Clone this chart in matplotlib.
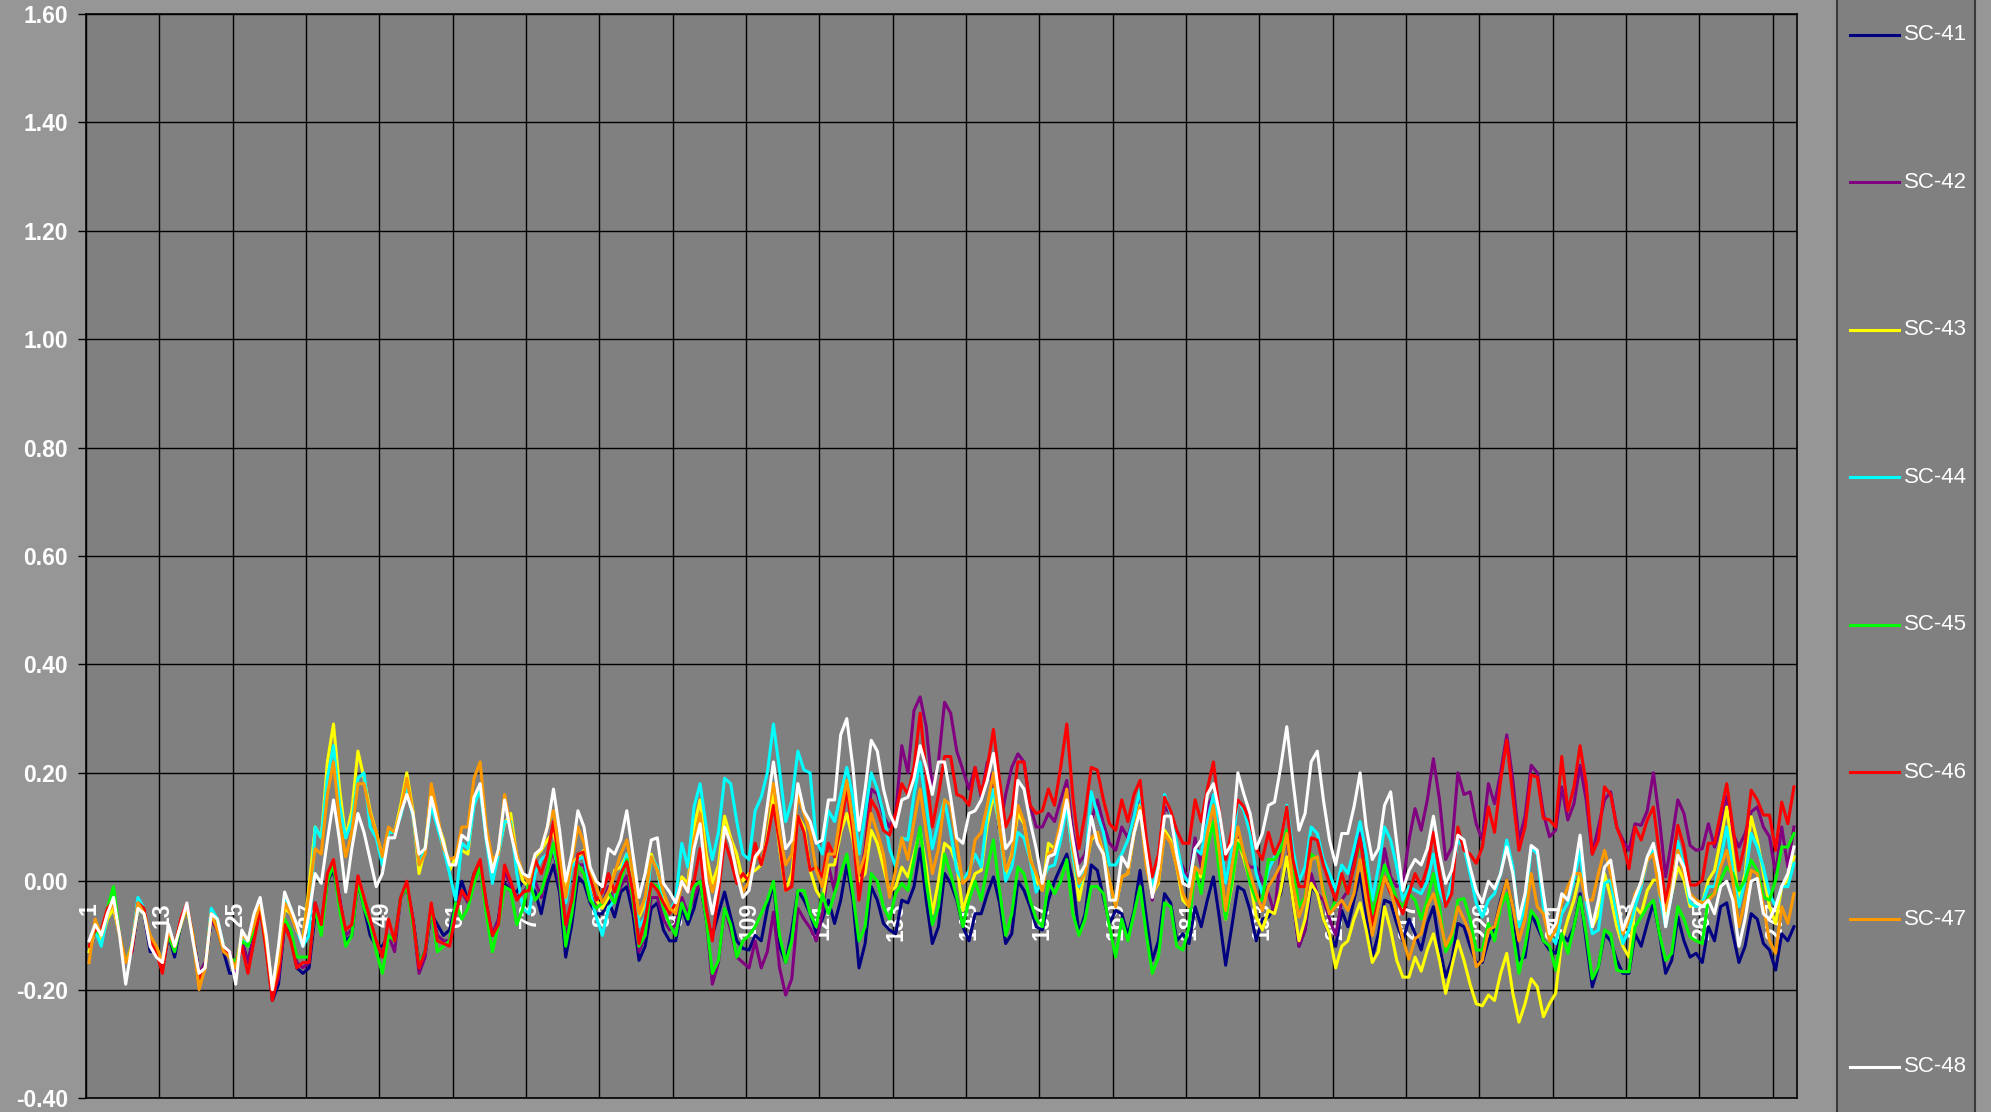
import numpy as np
import matplotlib
matplotlib.use('Agg')
import matplotlib.pyplot as plt
from matplotlib.patches import Rectangle
from matplotlib.lines import Line2D

plt.rcParams['font.family'] = ['Liberation Sans', 'DejaVu Sans']

# ---------------- data ----------------
series_names = ['SC-41', 'SC-42', 'SC-43', 'SC-44', 'SC-45', 'SC-46', 'SC-47', 'SC-48']
series_colors = ['#000080', '#800080', '#FFFF00', '#00FFFF', '#00FF00', '#FF0000', '#FF9900', '#FFFFFF']
tick_labels = [str(c) for c in range(1, 281, 12)]
y_ticks = [-0.40, -0.20, 0.00, 0.20, 0.40, 0.60, 0.80, 1.00, 1.20, 1.40, 1.60]

sc41 = [
    -0.11,-0.09,-0.10,-0.06,-0.03,-0.10,-0.15,-0.13,-0.05,-0.06,-0.13,-0.13,
    -0.16,-0.10,-0.14,-0.08,-0.05,-0.10,-0.17,-0.16,-0.07,-0.09,-0.13,-0.17,
    -0.17,-0.11,-0.15,-0.10,-0.05,-0.12,-0.22,-0.19,-0.08,-0.10,-0.16,-0.17,
    -0.16,-0.06,-0.08,0.00,0.02,-0.035,-0.11,-0.10,0.00,-0.05,-0.10,-0.12,
    -0.12,-0.10,-0.11,-0.03,-0.01,-0.07,-0.15,-0.13,-0.06,-0.08,-0.10,-0.09,
    -0.04,0.00,-0.035,0.014,0.026,-0.05,-0.10,-0.07,-0.004,-0.017,-0.02,0.00,
    0.00,-0.02,-0.06,-0.004,0.03,-0.02,-0.14,-0.08,0.008,-0.004,-0.04,-0.06,
    -0.06,-0.035,-0.066,-0.02,-0.01,-0.06,-0.146,-0.12,-0.05,-0.04,-0.09,-0.11,
    -0.11,-0.05,-0.08,-0.05,0.00,-0.07,-0.10,-0.06,-0.02,-0.066,-0.11,-0.124,
    -0.127,-0.10,-0.11,-0.05,-0.004,-0.12,-0.15,-0.09,-0.017,-0.035,-0.06,-0.097,
    -0.07,-0.035,-0.078,-0.035,0.03,-0.035,-0.16,-0.115,-0.01,-0.035,-0.078,-0.09,
    -0.097,-0.035,-0.04,-0.01,0.06,-0.035,-0.115,-0.084,0.014,-0.004,-0.035,-0.084,
    -0.11,-0.06,-0.06,-0.023,0.008,-0.04,-0.115,-0.097,0.00,-0.017,-0.047,-0.084,
    -0.09,-0.035,0.00,0.026,0.05,0.00,-0.097,-0.06,0.03,0.02,-0.03,-0.078,
    -0.054,-0.06,-0.10,-0.054,0.02,-0.066,-0.146,-0.11,-0.023,-0.04,-0.11,-0.097,
    -0.115,-0.047,-0.084,-0.035,0.008,-0.07,-0.155,-0.084,-0.01,-0.017,-0.054,-0.11,
    -0.07,-0.066,-0.047,-0.023,0.04,-0.035,-0.12,-0.09,-0.01,-0.023,-0.07,-0.10,
    -0.12,-0.054,-0.084,-0.035,0.014,-0.06,-0.14,-0.097,-0.035,-0.04,-0.078,-0.11,
    -0.07,-0.097,-0.127,-0.078,-0.047,-0.12,-0.177,-0.146,-0.078,-0.084,-0.12,-0.15,
    -0.15,-0.11,-0.084,-0.035,0.002,-0.047,-0.146,-0.14,-0.06,-0.084,-0.11,-0.127,
    -0.133,-0.097,-0.11,-0.084,-0.023,-0.11,-0.195,-0.158,-0.097,-0.11,-0.146,-0.17,
    -0.17,-0.097,-0.12,-0.078,-0.04,-0.097,-0.17,-0.146,-0.066,-0.11,-0.14,-0.133,
    -0.15,-0.084,-0.11,-0.047,-0.04,-0.097,-0.15,-0.12,-0.06,-0.07,-0.115,-0.127,
    -0.164,-0.097,-0.11,-0.084,
]

sc42 = [
    -0.12,-0.09,-0.10,-0.06,-0.03,-0.10,-0.15,-0.13,-0.05,-0.06,-0.12,-0.13,
    -0.16,-0.10,-0.13,-0.08,-0.05,-0.10,-0.17,-0.15,-0.07,-0.09,-0.12,-0.13,
    -0.17,-0.11,-0.15,-0.10,-0.05,-0.12,-0.21,-0.18,-0.08,-0.10,-0.15,-0.16,
    -0.15,-0.04,-0.08,0.00,0.03,-0.03,-0.10,-0.09,0.00,-0.04,-0.08,-0.12,
    -0.13,-0.10,-0.13,-0.03,-0.01,-0.07,-0.17,-0.14,-0.05,-0.10,-0.11,-0.11,
    -0.05,-0.02,-0.04,0.00,0.03,-0.04,-0.10,-0.07,0.02,-0.01,-0.03,-0.02,
    -0.01,0.00,-0.03,0.02,0.06,-0.01,-0.10,-0.06,0.03,0.03,-0.02,-0.05,
    -0.04,-0.01,-0.04,-0.01,0.01,-0.04,-0.13,-0.10,-0.03,-0.03,-0.07,-0.09,
    -0.08,-0.03,-0.06,-0.03,0.00,-0.07,-0.19,-0.15,-0.05,-0.09,-0.14,-0.15,
    -0.16,-0.11,-0.16,-0.13,-0.057,-0.16,-0.21,-0.18,-0.05,-0.07,-0.086,-0.11,
    -0.06,0.03,-0.02,0.125,0.16,0.125,0.00,0.06,0.17,0.16,0.12,0.10,
    0.125,0.25,0.20,0.315,0.34,0.285,0.17,0.22,0.33,0.31,0.24,0.205,
    0.17,0.21,0.155,0.22,0.17,0.094,0.16,0.21,0.235,0.22,0.14,0.10,
    0.10,0.125,0.11,0.15,0.186,0.09,0.033,0.05,0.11,0.15,0.106,0.07,
    0.057,0.10,0.08,0.125,0.16,0.076,-0.035,0.04,0.137,0.125,0.05,0.026,
    0.00,0.08,0.026,0.137,0.16,0.10,-0.004,0.05,0.088,0.04,0.026,0.026,
    0.00,-0.023,-0.06,0.05,0.088,-0.035,-0.12,-0.09,0.014,-0.023,-0.035,-0.07,
    -0.10,-0.035,-0.017,0.04,0.088,0.008,-0.084,-0.047,0.06,0.008,-0.01,-0.004,
    0.076,0.134,0.094,0.15,0.226,0.15,0.04,0.063,0.20,0.16,0.165,0.106,
    0.076,0.18,0.143,0.20,0.27,0.186,0.076,0.12,0.214,0.20,0.125,0.082,
    0.094,0.174,0.113,0.143,0.214,0.15,0.05,0.10,0.15,0.165,0.10,0.076,
    0.057,0.106,0.103,0.13,0.20,0.113,0.008,0.076,0.15,0.125,0.066,0.057,
    0.06,0.106,0.063,0.10,0.156,0.088,0.063,0.088,0.128,0.137,0.10,0.082,
    0.014,0.10,0.026,0.10,
]

sc43 = [
    -0.13,-0.09,-0.11,-0.07,-0.05,-0.10,-0.15,-0.12,-0.05,-0.06,-0.11,-0.12,
    -0.15,-0.09,-0.12,-0.08,-0.05,-0.10,-0.19,-0.16,-0.06,-0.08,-0.12,-0.14,
    -0.16,-0.10,-0.12,-0.08,-0.04,-0.11,-0.20,-0.15,-0.05,-0.06,-0.09,-0.11,
    -0.01,0.10,0.08,0.22,0.29,0.17,0.08,0.13,0.24,0.19,0.13,0.09,
    0.045,0.09,0.09,0.14,0.20,0.13,0.014,0.06,0.17,0.11,0.076,0.02,
    0.045,0.057,0.05,0.155,0.17,0.09,0.02,0.057,0.106,0.125,0.045,0.00,
    -0.01,0.045,0.057,0.076,0.09,0.04,-0.01,0.03,0.045,0.057,0.00,-0.035,
    -0.05,-0.03,0.02,0.026,0.05,0.014,-0.066,-0.04,0.05,0.02,-0.035,-0.05,
    -0.054,0.008,-0.004,0.10,0.15,0.05,-0.004,0.03,0.12,0.08,0.05,0.00,
    0.014,0.02,0.03,0.08,0.16,0.06,-0.017,0.014,0.12,0.10,0.02,-0.017,
    -0.035,0.03,0.03,0.09,0.125,0.076,0.00,0.014,0.094,0.07,0.026,-0.02,
    -0.01,0.026,0.008,0.05,0.094,0.026,-0.06,0.00,0.07,0.06,0.03,-0.054,
    -0.017,0.014,0.02,0.106,0.16,0.10,0.014,0.05,0.125,0.106,0.045,0.00,
    -0.017,0.07,0.06,0.094,0.14,0.05,-0.035,0.02,0.076,0.09,0.05,0.00,
    -0.047,0.008,0.014,0.088,0.14,0.04,-0.023,-0.004,0.094,0.076,0.026,-0.035,
    -0.047,0.014,0.008,0.088,0.11,0.026,-0.07,-0.01,0.076,0.04,0.00,-0.066,
    -0.09,-0.054,-0.06,-0.017,0.045,-0.035,-0.11,-0.07,-0.004,-0.023,-0.07,-0.097,
    -0.16,-0.12,-0.11,-0.07,-0.04,-0.09,-0.15,-0.13,-0.047,-0.09,-0.146,-0.177,
    -0.177,-0.14,-0.166,-0.127,-0.097,-0.146,-0.207,-0.158,-0.11,-0.146,-0.19,-0.226,
    -0.23,-0.21,-0.22,-0.17,-0.133,-0.207,-0.26,-0.226,-0.18,-0.195,-0.25,-0.226,
    -0.207,-0.11,-0.07,-0.035,0.014,-0.029,-0.084,-0.06,0.014,-0.029,-0.084,-0.12,
    -0.14,-0.047,-0.06,-0.017,0.002,0.002,-0.06,-0.023,0.026,0.002,-0.047,-0.04,
    -0.04,0.002,0.02,0.076,0.137,0.05,-0.035,0.014,0.119,0.076,0.014,-0.047,
    -0.078,-0.01,0.002,0.045,
]

sc44 = [
    -0.12,-0.09,-0.12,-0.06,-0.03,-0.10,-0.15,-0.12,-0.03,-0.05,-0.11,-0.13,
    -0.15,-0.09,-0.12,-0.08,-0.04,-0.10,-0.18,-0.16,-0.05,-0.07,-0.12,-0.14,
    -0.16,-0.10,-0.12,-0.08,-0.04,-0.11,-0.20,-0.14,-0.03,-0.05,-0.09,-0.12,
    -0.10,0.10,0.08,0.19,0.25,0.14,0.08,0.11,0.19,0.20,0.10,0.08,
    0.03,0.09,0.09,0.12,0.17,0.12,0.03,0.06,0.14,0.10,0.06,0.014,
    -0.035,0.07,0.06,0.14,0.17,0.076,-0.004,0.05,0.11,0.11,0.014,-0.05,
    -0.06,0.014,0.04,0.05,0.06,0.014,-0.04,0.026,0.04,0.045,-0.02,-0.066,
    -0.10,-0.05,-0.035,0.014,0.05,0.02,-0.084,-0.066,0.045,0.026,-0.05,-0.054,
    -0.035,0.07,0.026,0.137,0.18,0.10,0.04,0.09,0.19,0.18,0.11,0.05,
    0.04,0.13,0.155,0.20,0.29,0.205,0.11,0.15,0.24,0.205,0.20,0.076,
    0.05,0.13,0.11,0.16,0.21,0.155,0.05,0.125,0.20,0.17,0.125,0.06,
    0.026,0.08,0.076,0.16,0.22,0.14,0.06,0.11,0.15,0.09,0.02,0.00,
    0.02,0.05,0.026,0.125,0.17,0.10,0.00,0.026,0.09,0.08,0.04,-0.02,
    0.00,0.026,0.03,0.076,0.14,0.045,-0.01,0.02,0.165,0.125,0.09,0.03,
    0.03,0.05,0.076,0.12,0.17,0.05,-0.017,0.05,0.16,0.125,0.07,0.014,
    -0.004,0.06,0.05,0.11,0.16,0.10,-0.004,0.057,0.15,0.13,0.088,0.014,
    -0.023,0.02,0.045,0.076,0.14,0.06,0.00,0.026,0.10,0.088,0.04,0.014,
    -0.017,0.03,0.014,0.06,0.11,0.05,-0.035,0.026,0.10,0.076,0.026,-0.035,
    -0.01,-0.017,-0.023,0.00,0.05,-0.017,-0.047,0.002,0.076,0.063,0.014,-0.04,
    -0.066,-0.035,-0.023,0.014,0.076,0.026,-0.084,-0.047,0.063,0.05,-0.047,-0.097,
    -0.115,-0.06,-0.04,0.002,0.057,-0.04,-0.097,-0.09,-0.004,0.002,-0.06,-0.115,
    -0.09,-0.047,-0.01,0.039,0.057,-0.023,-0.084,-0.023,0.073,0.026,-0.04,-0.047,
    -0.04,-0.01,-0.01,0.039,0.10,0.02,-0.047,0.002,0.088,0.063,0.026,-0.023,
    -0.047,-0.01,-0.01,0.033,
]

sc45 = [
    -0.12,-0.09,-0.10,-0.05,-0.01,-0.10,-0.15,-0.12,-0.05,-0.06,-0.11,-0.13,
    -0.15,-0.10,-0.13,-0.08,-0.05,-0.10,-0.18,-0.16,-0.06,-0.08,-0.12,-0.14,
    -0.15,-0.11,-0.12,-0.09,-0.05,-0.12,-0.21,-0.16,-0.07,-0.09,-0.14,-0.14,
    -0.14,-0.05,-0.10,0.00,0.03,-0.05,-0.12,-0.10,0.00,-0.05,-0.08,-0.13,
    -0.17,-0.10,-0.11,-0.03,-0.01,-0.08,-0.15,-0.13,-0.05,-0.13,-0.12,-0.11,
    -0.04,-0.07,-0.05,-0.004,0.026,-0.06,-0.13,-0.08,-0.01,-0.017,-0.08,-0.05,
    0.00,-0.035,-0.02,0.02,0.07,0.008,-0.12,-0.06,0.03,0.014,-0.035,-0.05,
    -0.04,-0.02,-0.04,0.00,0.04,-0.035,-0.12,-0.10,-0.004,-0.01,-0.05,-0.08,
    -0.10,-0.04,-0.07,-0.01,0.00,-0.07,-0.17,-0.146,-0.05,-0.08,-0.14,-0.11,
    -0.10,-0.084,-0.06,-0.035,0.00,-0.10,-0.15,-0.11,-0.017,-0.017,-0.06,-0.084,
    -0.023,-0.06,-0.023,0.014,0.05,-0.023,-0.11,-0.084,0.014,0.00,-0.047,-0.07,
    -0.023,-0.004,-0.017,0.04,0.10,0.00,-0.08,-0.047,0.05,0.014,-0.03,-0.084,
    -0.035,0.00,-0.035,0.026,0.076,-0.017,-0.10,-0.06,0.026,0.014,-0.035,-0.07,
    -0.084,0.00,-0.023,0.00,0.04,-0.06,-0.10,-0.07,-0.01,-0.01,-0.023,-0.084,
    -0.14,-0.07,-0.11,-0.06,-0.01,-0.097,-0.17,-0.14,-0.04,-0.047,-0.12,-0.127,
    -0.084,0.026,-0.023,0.06,0.11,0.014,-0.07,-0.004,0.07,0.05,-0.004,-0.035,
    -0.035,0.04,0.04,0.057,0.094,0.026,-0.047,-0.03,0.05,0.04,-0.017,-0.06,
    -0.035,0.008,-0.023,0.026,0.07,0.014,-0.06,-0.017,0.03,0.00,-0.035,-0.047,
    -0.023,-0.035,-0.07,-0.035,0.014,-0.047,-0.13,-0.11,-0.035,-0.032,-0.07,-0.127,
    -0.127,-0.078,-0.11,-0.047,-0.023,-0.097,-0.17,-0.12,-0.054,-0.07,-0.11,-0.12,
    -0.164,-0.097,-0.133,-0.084,-0.029,-0.097,-0.18,-0.158,-0.09,-0.097,-0.164,-0.167,
    -0.167,-0.084,-0.066,-0.047,-0.035,-0.097,-0.146,-0.133,-0.047,-0.07,-0.103,-0.11,
    -0.115,-0.029,-0.023,0.002,0.026,0.014,-0.017,0.002,0.039,0.02,-0.029,-0.035,
    0.002,0.063,0.063,0.088,
]

sc46 = [
    -0.12,-0.09,-0.09,-0.05,-0.035,-0.10,-0.15,-0.13,-0.04,-0.05,-0.11,-0.13,
    -0.17,-0.09,-0.12,-0.07,-0.04,-0.10,-0.18,-0.16,-0.06,-0.09,-0.12,-0.14,
    -0.16,-0.12,-0.17,-0.11,-0.05,-0.13,-0.22,-0.17,-0.08,-0.11,-0.16,-0.15,
    -0.15,-0.04,-0.08,0.014,0.04,-0.035,-0.09,-0.08,0.01,-0.03,-0.07,-0.11,
    -0.14,-0.07,-0.11,-0.03,0.00,-0.07,-0.16,-0.13,-0.04,-0.11,-0.115,-0.12,
    -0.06,-0.017,-0.035,0.014,0.04,-0.04,-0.10,-0.08,0.03,0.00,-0.035,-0.02,
    -0.017,0.04,0.014,0.05,0.11,0.026,-0.08,-0.035,0.05,0.054,0.008,-0.035,
    -0.02,0.014,-0.02,0.014,0.036,-0.02,-0.115,-0.07,-0.004,-0.017,-0.04,-0.06,
    -0.04,0.00,-0.02,0.00,0.06,-0.05,-0.11,-0.02,0.076,0.04,-0.004,0.014,
    0.00,0.07,0.03,0.076,0.14,0.07,-0.017,-0.01,0.12,0.09,0.02,0.026,
    0.008,0.07,0.045,0.10,0.17,0.09,-0.035,0.05,0.15,0.13,0.094,0.085,
    0.125,0.18,0.16,0.21,0.31,0.20,0.10,0.16,0.23,0.23,0.16,0.155,
    0.14,0.21,0.16,0.21,0.28,0.186,0.10,0.125,0.22,0.22,0.14,0.125,
    0.13,0.17,0.14,0.21,0.29,0.155,0.06,0.125,0.21,0.205,0.15,0.106,
    0.094,0.15,0.11,0.16,0.186,0.08,0.008,0.05,0.155,0.13,0.094,0.07,
    0.07,0.15,0.11,0.17,0.22,0.125,0.04,0.094,0.15,0.137,0.11,0.06,
    0.04,0.09,0.05,0.076,0.137,0.04,-0.01,-0.01,0.08,0.076,0.03,-0.004,
    -0.035,0.014,-0.023,0.026,0.08,-0.004,-0.084,-0.035,0.008,-0.023,-0.035,-0.06,
    -0.023,0.014,-0.01,0.026,0.09,0.014,-0.047,-0.023,0.10,0.057,0.05,0.033,
    0.063,0.137,0.09,0.186,0.26,0.156,0.057,0.10,0.196,0.192,0.116,0.113,
    0.10,0.23,0.13,0.174,0.25,0.18,0.05,0.076,0.174,0.16,0.10,0.07,
    0.023,0.10,0.076,0.113,0.137,0.05,-0.04,0.026,0.103,0.063,-0.007,-0.007,
    0.002,0.07,0.07,0.125,0.18,0.10,0.02,0.07,0.168,0.15,0.122,0.122,
    0.057,0.146,0.106,0.174,
]

sc47 = [
    -0.15,-0.07,-0.10,-0.06,-0.04,-0.10,-0.15,-0.12,-0.04,-0.06,-0.10,-0.12,
    -0.15,-0.09,-0.12,-0.08,-0.05,-0.10,-0.20,-0.16,-0.06,-0.09,-0.13,-0.14,
    -0.16,-0.10,-0.11,-0.08,-0.04,-0.11,-0.20,-0.15,-0.04,-0.06,-0.09,-0.11,
    -0.02,0.06,0.05,0.16,0.22,0.11,0.045,0.09,0.18,0.18,0.125,0.09,
    0.045,0.10,0.09,0.13,0.19,0.125,0.03,0.05,0.18,0.125,0.06,0.04,
    0.045,0.10,0.10,0.19,0.22,0.10,0.04,0.05,0.16,0.10,0.05,0.014,
    -0.004,0.05,0.06,0.10,0.13,0.05,-0.03,0.04,0.10,0.07,0.02,-0.01,
    -0.04,-0.02,0.014,0.05,0.076,0.014,-0.06,-0.03,0.045,0.02,-0.02,-0.05,
    -0.06,-0.004,-0.01,0.076,0.125,0.026,-0.02,0.014,0.094,0.076,0.02,-0.02,
    0.00,0.04,0.06,0.13,0.18,0.09,0.03,0.05,0.16,0.125,0.09,0.02,
    -0.01,0.05,0.05,0.125,0.186,0.11,0.014,0.05,0.125,0.09,0.05,-0.03,
    0.02,0.08,0.04,0.11,0.17,0.09,0.014,0.06,0.15,0.14,0.07,-0.004,
    0.008,0.076,0.09,0.14,0.20,0.10,0.02,0.045,0.14,0.11,0.04,0.014,
    -0.017,0.05,0.06,0.11,0.17,0.06,-0.004,0.014,0.08,0.09,0.045,0.00,
    -0.047,0.008,0.014,0.088,0.137,0.026,-0.023,0.00,0.088,0.07,0.026,-0.023,
    -0.047,0.026,0.014,0.088,0.14,0.05,-0.054,0.026,0.10,0.05,0.014,-0.023,
    -0.054,-0.01,0.008,0.03,0.088,-0.004,-0.066,-0.035,0.04,0.045,-0.023,-0.06,
    -0.047,-0.035,-0.054,-0.023,0.04,-0.035,-0.10,-0.047,0.008,-0.017,-0.06,-0.106,
    -0.144,-0.106,-0.097,-0.047,-0.023,-0.066,-0.12,-0.097,-0.047,-0.07,-0.097,-0.158,
    -0.146,-0.09,-0.084,-0.04,0.002,-0.047,-0.11,-0.07,0.014,-0.047,-0.06,-0.11,
    -0.09,-0.04,-0.01,0.014,0.014,-0.035,-0.035,0.014,0.057,0.014,-0.035,-0.097,
    -0.07,-0.023,-0.004,0.039,0.05,-0.023,-0.054,-0.01,0.057,0.014,-0.023,-0.035,
    -0.04,-0.035,-0.023,0.026,0.057,0.002,-0.084,-0.035,0.02,0.014,-0.047,-0.11,
    -0.133,-0.047,-0.078,-0.023,
]

sc48 = [
    -0.11,-0.08,-0.10,-0.06,-0.03,-0.10,-0.19,-0.12,-0.05,-0.06,-0.12,-0.14,
    -0.15,-0.08,-0.12,-0.08,-0.04,-0.11,-0.17,-0.16,-0.06,-0.07,-0.12,-0.13,
    -0.19,-0.09,-0.11,-0.06,-0.03,-0.10,-0.20,-0.12,-0.02,-0.05,-0.08,-0.12,
    -0.06,0.014,-0.004,0.075,0.15,0.075,-0.02,0.06,0.125,0.09,0.04,-0.01,
    0.014,0.08,0.08,0.125,0.16,0.125,0.05,0.06,0.155,0.11,0.07,0.03,
    0.03,0.085,0.076,0.155,0.18,0.08,0.017,0.06,0.15,0.09,0.04,0.014,
    0.008,0.05,0.06,0.10,0.17,0.094,0.00,0.05,0.13,0.10,0.026,0.00,
    -0.01,0.06,0.05,0.076,0.13,0.05,-0.03,0.014,0.076,0.08,-0.004,-0.02,
    -0.04,0.00,-0.02,0.06,0.106,0.00,-0.06,0.00,0.10,0.07,0.014,-0.03,
    -0.017,0.045,0.06,0.14,0.22,0.14,0.06,0.076,0.18,0.13,0.11,0.07,
    0.076,0.15,0.15,0.27,0.30,0.21,0.094,0.17,0.26,0.24,0.17,0.125,
    0.10,0.15,0.155,0.19,0.25,0.21,0.16,0.22,0.22,0.155,0.08,0.07,
    0.125,0.13,0.15,0.186,0.236,0.15,0.06,0.076,0.186,0.17,0.11,0.06,
    -0.004,0.045,0.05,0.094,0.15,0.076,0.01,0.03,0.12,0.07,0.05,-0.035,
    -0.035,0.045,0.026,0.088,0.13,0.05,-0.03,0.026,0.12,0.12,0.05,-0.004,
    -0.01,0.06,0.076,0.16,0.18,0.125,0.05,0.07,0.20,0.16,0.125,0.06,
    0.088,0.14,0.146,0.21,0.285,0.186,0.094,0.125,0.22,0.24,0.15,0.076,
    0.03,0.088,0.088,0.137,0.20,0.10,0.04,0.06,0.14,0.165,0.07,-0.017,
    0.02,0.04,0.03,0.06,0.12,0.05,-0.004,0.02,0.085,0.076,0.026,-0.017,
    -0.04,0.00,-0.014,0.014,0.063,0.014,-0.07,-0.023,0.066,0.057,-0.023,-0.097,
    -0.078,-0.023,-0.035,0.014,0.085,-0.023,-0.084,-0.035,0.026,0.039,-0.029,-0.09,
    -0.06,-0.029,0.00,0.045,0.07,0.014,-0.084,-0.023,0.048,0.026,-0.029,-0.04,
    -0.047,-0.035,-0.06,-0.01,0.00,-0.035,-0.12,-0.07,0.00,0.005,-0.06,-0.07,
    -0.047,-0.01,0.014,0.063,
]

series_values = [sc41, sc42, sc43, sc44, sc45, sc46, sc47, sc48]
lens = [len(s) for s in series_values]
if any(n != 280 for n in lens):
    raise ValueError("series lengths: %s" % lens)
categories = np.arange(1, 281)

# ---------------- figure ----------------
W, H = 1991, 1112
FIG_BG = '#969696'
PLOT_BG = '#808080'
fig = plt.figure(figsize=(W / 100, H / 100), dpi=100, facecolor=FIG_BG)

ax_l, ax_r, ax_t, ax_b = 86, 1797, 14, 1098
ax = fig.add_axes([ax_l / W, 1 - ax_b / H, (ax_r - ax_l) / W, (ax_b - ax_t) / H])
ax.set_facecolor(PLOT_BG)

for name, vals, col in zip(series_names, series_values, series_colors):
    ax.plot(categories, vals, color=col, lw=2.2, zorder=3, label=name)

ax.set_xlim(0.5, 280.5)
ax.set_ylim(-0.4, 1.6)
ax.set_yticks(y_ticks)
ax.set_yticklabels(['%.2f' % v for v in y_ticks], color='white',
                   fontsize=16.5, fontweight='bold')
ax.tick_params(axis='y', direction='out', length=6, width=1, color='black', pad=7)
ax.set_xticks([0.5 + 12 * i for i in range(24)])
ax.tick_params(axis='x', length=0, labelbottom=False)
ax.grid(True, color='black', lw=1.0)
ax.set_axisbelow(True)
for sp in ax.spines.values():
    sp.set_color('black')
    sp.set_linewidth(1.2)

# category labels sitting under the zero line
for lab in tick_labels:
    ax.annotate(lab, xy=(int(lab), 0.0), xytext=(0, -15), textcoords='offset points',
                rotation=90, ha='center', va='top', color='white',
                fontsize=16.5, fontweight='bold', zorder=2.5)

# ---------------- legend panel ----------------
px0, px1 = 1837, 1975
fig.add_artist(Rectangle((px0 / W, -0.01), (px1 - px0) / W, 1.02,
                         transform=fig.transFigure, facecolor=PLOT_BG,
                         edgecolor='#3a3a3a', lw=1.5, zorder=1))
for i, (name, col) in enumerate(zip(series_names, series_colors)):
    yy = 35 + i * 147.4
    yf = 1 - yy / H
    fig.add_artist(Line2D([1850 / W, 1899 / W], [yf, yf], transform=fig.transFigure,
                          color=col, lw=2.2, zorder=2))
    fig.text(1904 / W, yf, name, color='white', fontsize=16, va='center', ha='left',
             zorder=3)

fig.savefig('out.png', dpi=100, facecolor=FIG_BG)
